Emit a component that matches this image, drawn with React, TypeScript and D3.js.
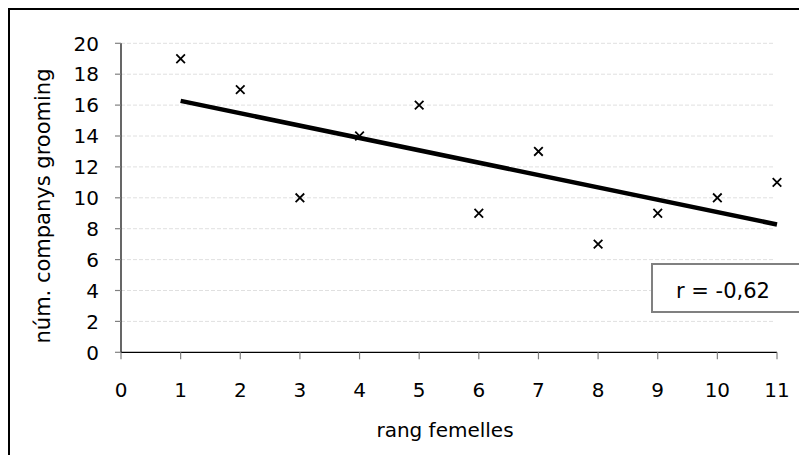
import React from "react";
import * as d3 from "d3";

const ranks = [1, 2, 3, 4, 5, 6, 7, 8, 9, 10, 11];
const grooming = [19, 17, 10, 14, 16, 9, 13, 7, 9, 10, 11];
const xTicks = [0, 1, 2, 3, 4, 5, 6, 7, 8, 9, 10, 11];
const yTicks = [0, 2, 4, 6, 8, 10, 12, 14, 16, 18, 20];
const xTitle = "rang femelles";
const yTitle = "núm. companys grooming";
const rLabel = "r = -0,62";

const W = 799;
const H = 455;
const FONT = "Verdana, 'DejaVu Sans', sans-serif";

export default function App() {
  const x = d3.scaleLinear().domain([0, 11]).range([121, 777]);
  const y = d3.scaleLinear().domain([0, 20]).range([352.3, 43.3]);

  const mx = d3.mean(ranks) as number;
  const my = d3.mean(grooming) as number;
  let sxy = 0, sxx = 0;
  ranks.forEach((r, i) => {
    sxy += (r - mx) * (grooming[i] - my);
    sxx += (r - mx) * (r - mx);
  });
  const slope = sxy / sxx;
  const icpt = my - slope * mx;
  const x0 = d3.min(ranks) as number;
  const x1 = d3.max(ranks) as number;
  const trend = d3.line<number>().x((d) => x(d)).y((d) => y(icpt + slope * d))([x0, x1]) as string;

  const s = 4.3;
  return (
    <svg width={W} height={H} style={{ position: "absolute", left: 0, top: 0, background: "#fff" }}>
      <rect x={0} y={0} width={W} height={H} fill="#fff" />
      <rect x={9} y={9} width={W + 20} height={H + 20} fill="none" stroke="#000" strokeWidth={2} />
      {/* gridlines */}
      {yTicks.filter((t) => t > 0).map((t) => (
        <line key={"g" + t} x1={x(0)} x2={x(11) - 2} y1={y(t)} y2={y(t)} stroke="#e0e0e0" strokeWidth={1} strokeDasharray="4,2" />
      ))}
      {/* y axis */}
      <line x1={x(0)} x2={x(0)} y1={y(0)} y2={y(20)} stroke="#000" strokeWidth={1.2} />
      {yTicks.map((t) => (
        <g key={"y" + t}>
          <line x1={x(0) - 6} x2={x(0)} y1={y(t)} y2={y(t)} stroke="#808080" strokeWidth={1.2} />
          <text x={99} y={y(t)} dy="0.36em" textAnchor="end" fontFamily={FONT} fontSize={20} fill="#000">{t}</text>
        </g>
      ))}
      {/* x axis */}
      <line x1={x(0)} x2={x(11)} y1={y(0)} y2={y(0)} stroke="#000" strokeWidth={1.2} />
      {xTicks.map((t) => (
        <g key={"x" + t}>
          <line x1={x(t)} x2={x(t)} y1={y(0)} y2={y(0) + 7} stroke="#808080" strokeWidth={1.2} />
          <text x={x(t)} y={397} textAnchor="middle" fontFamily={FONT} fontSize={20} fill="#000">{t}</text>
        </g>
      ))}
      {/* trend line */}
      <path d={trend} stroke="#000" strokeWidth={4.5} fill="none" />
      {/* markers */}
      {ranks.map((r, i) => (
        <path key={"m" + i}
          d={`M${x(r) - s},${y(grooming[i]) - s}L${x(r) + s},${y(grooming[i]) + s}M${x(r) - s},${y(grooming[i]) + s}L${x(r) + s},${y(grooming[i]) - s}`}
          stroke="#000" strokeWidth={1.8} fill="none" />
      ))}
      {/* r box */}
      <rect x={652} y={264} width={200} height={48} fill="#fff" stroke="#808080" strokeWidth={2} />
      <text x={723} y={297.5} textAnchor="middle" fontFamily={FONT} fontSize={21} fill="#000">{rLabel}</text>
      {/* titles */}
      <text x={445} y={437} textAnchor="middle" fontFamily={FONT} fontSize={20} fill="#000">{xTitle}</text>
      <text transform={`translate(49.5,${206}) rotate(-90)`} textAnchor="middle" fontFamily={FONT} fontSize={21} fill="#000">{yTitle}</text>
    </svg>
  );
}
